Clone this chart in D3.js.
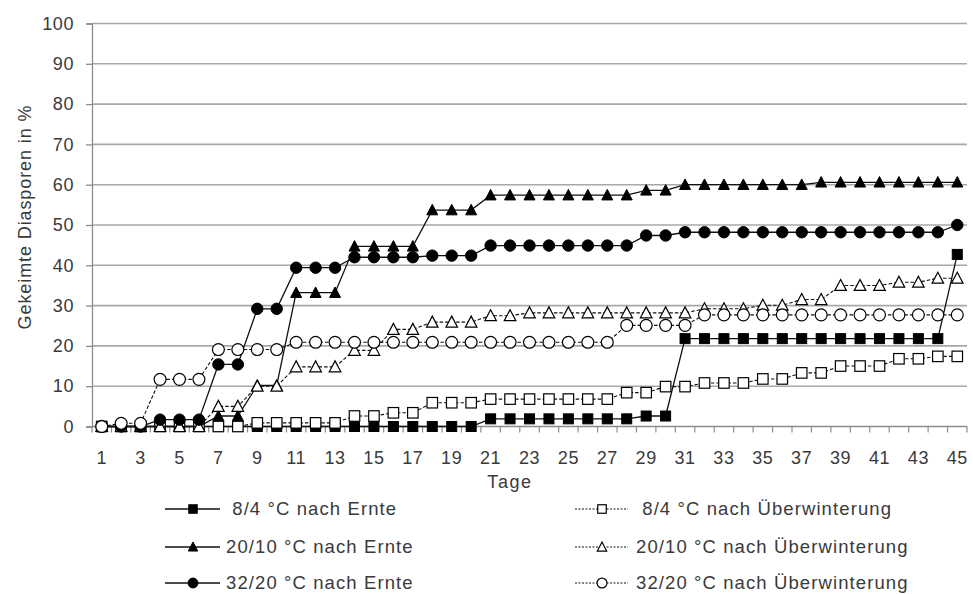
<!DOCTYPE html>
<html>
<head>
<meta charset="utf-8">
<script src="https://cdn.jsdelivr.net/npm/d3@7"></script>
<style>
  html, body { margin: 0; padding: 0; background: #fff; }
  svg { display: block; }
  text { font-family: "Liberation Sans", Arial, sans-serif; fill: #3a3a3a; }
</style>
</head>
<body>
<svg id="chart" width="973" height="594"></svg>
<script>
// ---------- data ----------
const days = [1,2,3,4,5,6,7,8,9,10,11,12,13,14,15,16,17,18,19,20,21,22,23,24,25,26,27,28,29,30,31,32,33,34,35,36,37,38,39,40,41,42,43,44,45];
const dayTickLabels = [1,3,5,7,9,11,13,15,17,19,21,23,25,27,29,31,33,35,37,39,41,43,45];
const yTicks = [0,10,20,30,40,50,60,70,80,90,100];

// 8/4 °C nach Ernte
const ernte84 = [0,0,0,0,0,0,0,0,0,0,0,0,0,0,0,0,0,0,0,0,
  1.9,1.9,1.9,1.9,1.9,1.9,1.9,1.9,2.6,2.6,
  21.8,21.8,21.8,21.8,21.8,21.8,21.8,21.8,21.8,21.8,21.8,21.8,21.8,21.8,42.7];
// 20/10 °C nach Ernte
const ernte2010 = [0,0,0,0,0,0,2.6,2.6,10.2,10.2,33.2,33.2,33.2,44.7,44.7,44.7,44.7,53.7,53.7,53.7,
  57.4,57.4,57.4,57.4,57.4,57.4,57.4,57.4,58.6,58.6,
  60.0,60.0,60.0,60.0,60.0,60.0,60.0,60.6,60.6,60.6,60.6,60.6,60.6,60.6,60.6];
// 32/20 °C nach Ernte
const ernte3220 = [0,0,0,1.7,1.7,1.7,15.4,15.4,29.2,29.2,39.4,39.4,39.4,42.0,42.0,42.0,42.0,42.4,42.4,42.4,
  44.9,44.9,44.9,44.9,44.9,44.9,44.9,44.9,47.4,47.4,
  48.2,48.2,48.2,48.2,48.2,48.2,48.2,48.2,48.2,48.2,48.2,48.2,48.2,48.2,50.0];
// 8/4 °C nach Überwinterung
const uebw84 = [0,0,0,0,0,0,0,0,0.9,0.9,0.9,0.9,0.9,2.6,2.6,3.4,3.4,5.9,5.9,5.9,
  6.8,6.8,6.8,6.8,6.8,6.8,6.8,8.4,8.4,9.9,9.9,10.8,10.8,10.8,11.8,11.8,13.3,13.3,
  15.0,15.0,15.0,16.8,16.8,17.4,17.4];
// 20/10 °C nach Überwinterung
const uebw2010 = [0,0,0,0,0,0,5.0,5.0,10.0,10.0,14.8,14.8,14.8,18.9,18.9,24.1,24.1,25.9,25.9,25.9,
  27.5,27.5,28.2,28.2,28.2,28.2,28.2,28.2,28.2,28.2,28.2,29.2,29.2,29.2,30.1,30.1,31.5,31.5,
  35.0,35.0,35.0,35.8,35.8,36.8,36.8];
// 32/20 °C nach Überwinterung
const uebw3220 = [0,0.8,0.8,11.7,11.7,11.7,19.1,19.1,19.1,19.1,
  20.9,20.9,20.9,20.9,20.9,20.9,20.9,20.9,20.9,20.9,20.9,20.9,20.9,20.9,20.9,20.9,20.9,
  25.1,25.1,25.1,25.1,27.7,27.7,27.7,27.7,27.7,27.7,27.7,27.7,27.7,27.7,27.7,27.7,27.7,27.7];

const seriesNames = ["8/4 °C nach Ernte","20/10 °C nach Ernte","32/20 °C nach Ernte",
  "8/4 °C nach Überwinterung","20/10 °C nach Überwinterung","32/20 °C nach Überwinterung"];
const axisTitleX = "Tage";
const axisTitleY = "Gekeimte Diasporen in %";

// ---------- series definitions (style) ----------
const series = [
  {name: seriesNames[0], values: ernte84,  shape: "square",   filled: true,  dashed: false, col: 0, row: 0},
  {name: seriesNames[3], values: uebw84,   shape: "square",   filled: false, dashed: true,  col: 1, row: 0},
  {name: seriesNames[1], values: ernte2010,shape: "triangle", filled: true,  dashed: false, col: 0, row: 1},
  {name: seriesNames[4], values: uebw2010, shape: "triangle", filled: false, dashed: true,  col: 1, row: 1},
  {name: seriesNames[2], values: ernte3220,shape: "circle",   filled: true,  dashed: false, col: 0, row: 2},
  {name: seriesNames[5], values: uebw3220, shape: "circle",   filled: false, dashed: true,  col: 1, row: 2}
];

// ---------- layout ----------
const svg = d3.select("#chart");
const plotL = 92, plotR = 967, plotT = 23.5, plotB = 426.5;

const x = d3.scaleBand().domain(days).range([plotL, plotR]).padding(0);
const y = d3.scaleLinear().domain([0, 100]).range([plotB, plotT]);
const cx = d => x(d) + x.bandwidth() / 2;

const gridColor = "#a8a8a8";
const axisColor = "#8c8c8c";

// gridlines
svg.append("g").selectAll("line").data(yTicks.filter(t => t > 0)).join("line")
  .attr("x1", plotL).attr("x2", plotR)
  .attr("y1", d => y(d)).attr("y2", d => y(d))
  .attr("stroke", gridColor).attr("stroke-width", 1.6);

// y axis
const yAxis = svg.append("g").attr("transform", `translate(${plotL},0)`)
  .call(d3.axisLeft(y).tickValues(yTicks).tickSize(6).tickPadding(12));
yAxis.select(".domain").attr("stroke", axisColor).attr("stroke-width", 1.3);
yAxis.selectAll(".tick line").attr("stroke", axisColor).attr("stroke-width", 1.3);
yAxis.selectAll(".tick text").style("font-size", "18px").style("letter-spacing", "0.6px")
  .attr("fill", "#3a3a3a").attr("font-family", null);

// x axis: line + tick marks at category boundaries
const xAxisG = svg.append("g");
xAxisG.append("line").attr("x1", plotL).attr("x2", plotR).attr("y1", plotB).attr("y2", plotB)
  .attr("stroke", axisColor).attr("stroke-width", 1.3);
const boundaries = days.map(d => x(d)).concat([plotR]);
xAxisG.selectAll("line.tk").data(boundaries).join("line").attr("class", "tk")
  .attr("x1", d => d).attr("x2", d => d).attr("y1", plotB).attr("y2", plotB + 6)
  .attr("stroke", axisColor).attr("stroke-width", 1.2);
const xLab = svg.append("g").attr("transform", `translate(0,${plotB})`)
  .call(d3.axisBottom(x).tickValues(dayTickLabels).tickSize(0).tickPadding(25));
xLab.select(".domain").remove();
xLab.selectAll(".tick text").style("font-size", "18px").style("letter-spacing", "0.6px")
  .attr("fill", "#3a3a3a").attr("font-family", null);

// axis titles
svg.append("text").attr("x", 510).attr("y", 488).attr("text-anchor", "middle")
  .style("font-size", "18px").style("letter-spacing", "1.6px").text(axisTitleX);
svg.append("text").attr("transform", "translate(31,217) rotate(-90)").attr("text-anchor", "middle")
  .style("font-size", "18px").style("letter-spacing", "0.9px").text(axisTitleY);

// ---------- marker drawing ----------
function drawMarker(sel, shape, filled, size) {
  const fill = filled ? "#000" : "#fff";
  const stroke = "#000";
  const sw = filled ? 1 : 1.2;
  if (shape === "square") {
    sel.append("rect").attr("x", -size/2).attr("y", -size/2).attr("width", size).attr("height", size)
      .attr("fill", fill).attr("stroke", stroke).attr("stroke-width", sw);
  } else if (shape === "circle") {
    sel.append("circle").attr("r", size/2 + 0.7).attr("fill", fill).attr("stroke", stroke).attr("stroke-width", sw);
  } else {
    const h = size * 0.95, w = size * 1.1;
    sel.append("path").attr("d", `M0,${-h/2 - 1}L${w/2},${h/2}L${-w/2},${h/2}Z`)
      .attr("fill", fill).attr("stroke", stroke).attr("stroke-width", sw);
  }
}

// ---------- series ----------
const line = d3.line().x((v, i) => cx(days[i])).y(v => y(v));
series.forEach(s => {
  const g = svg.append("g");
  g.append("path").datum(s.values).attr("d", line).attr("fill", "none")
    .attr("stroke", "#111").attr("stroke-width", s.dashed ? 1.1 : 1.3)
    .attr("stroke-dasharray", s.dashed ? "3.5,2" : null);
  g.selectAll("g.m").data(s.values).join("g").attr("class", "m")
    .attr("transform", (v, i) => `translate(${cx(days[i])},${y(v)})`)
    .each(function() { drawMarker(d3.select(this), s.shape, s.filled, s.filled ? 10 : 10.5); });
});

// ---------- legend ----------
const legCols = [{x1: 165, x2: 220, mx: 193, tx: 226}, {x1: 575, x2: 628, mx: 602, tx: 636}];
const legRows = [509, 547, 583];
series.forEach(s => {
  const c = legCols[s.col], ry = legRows[s.row];
  const g = svg.append("g");
  g.append("line").attr("x1", c.x1).attr("x2", c.x2).attr("y1", ry).attr("y2", ry)
    .attr("stroke", "#111").attr("stroke-width", s.dashed ? 1 : 1.3)
    .attr("stroke-dasharray", s.dashed ? "2,1.5" : null);
  const m = g.append("g").attr("transform", `translate(${c.mx},${ry})`);
  drawMarker(m, s.shape, s.filled, 8.5);
  g.append("text").attr("x", c.tx).attr("y", ry).attr("dy", "0.35em")
    .style("font-size", "18.5px").style("letter-spacing", "1.1px").style("white-space", "pre")
    .text((s.row === 0 ? " " : "") + s.name);
});
</script>
</body>
</html>
